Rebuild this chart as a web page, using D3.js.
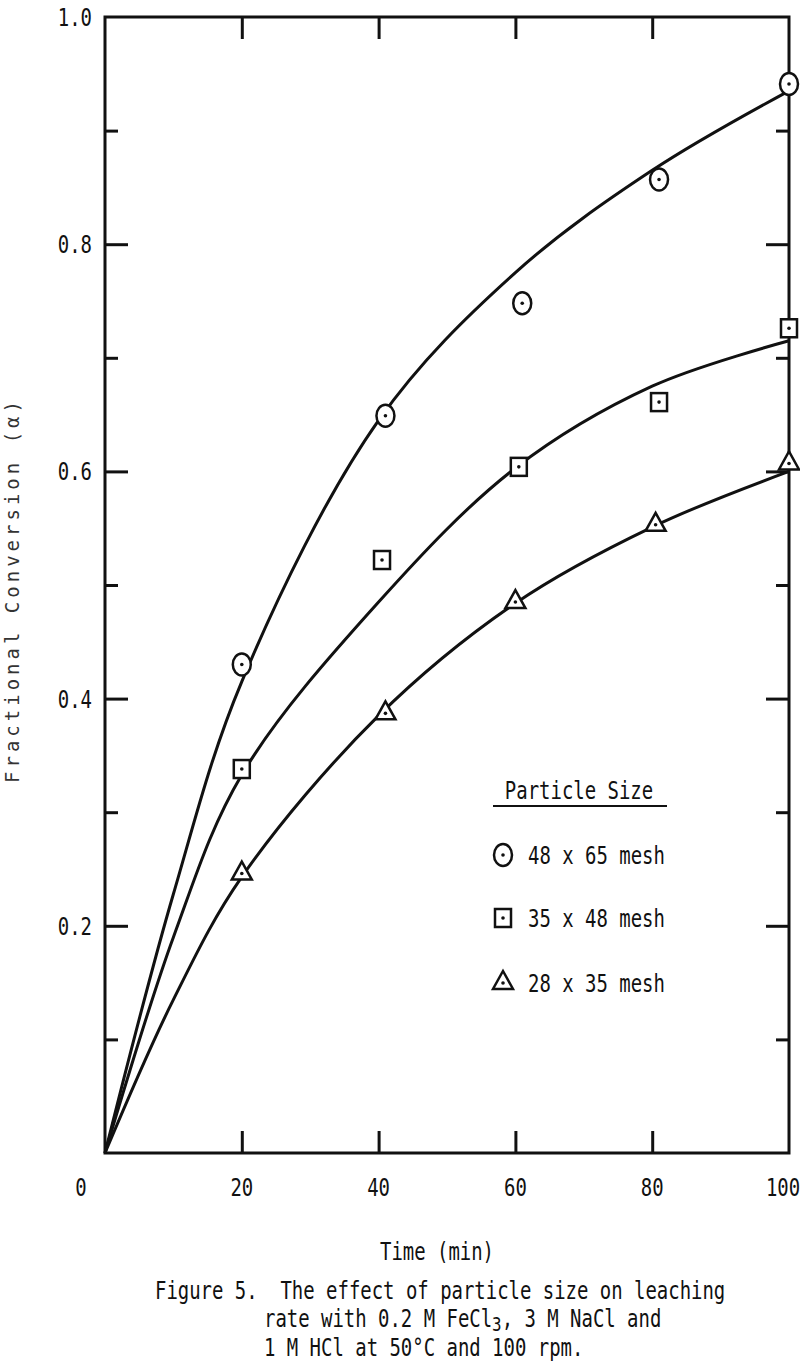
<!DOCTYPE html>
<html>
<head>
<meta charset="utf-8">
<script src="https://cdn.jsdelivr.net/npm/d3@7"></script>
<style>
body { margin: 0; background: #fff; }
</style>
</head>
<body>
<div id="chart"></div>
<script>
// data
const seriesNames = ["48 x 65 mesh", "35 x 48 mesh", "28 x 35 mesh"];
const markerKinds = ["circle", "square", "triangle"];
const pointTimes = [
    [20, 41, 61, 81, 100],
    [20, 40.5, 60.5, 81, 100],
    [20, 41, 60, 80.5, 100]
];
const pointValues = [
    [0.430, 0.649, 0.748, 0.857, 0.941],
    [0.338, 0.522, 0.604, 0.661, 0.726],
    [0.246, 0.387, 0.485, 0.553, 0.607]
];
// smooth fitted curves drawn by hand in the original
const fitTimes = [0, 10, 20, 40, 60, 80, 100];
const fitValues = [
    [0, 0.228, 0.415, 0.645, 0.775, 0.865, 0.935],
    [0, 0.190, 0.333, 0.485, 0.603, 0.675, 0.715],
    [0, 0.135, 0.243, 0.385, 0.484, 0.551, 0.600]
];
const xTicks = [0, 20, 40, 60, 80, 100];
const yTicks = [0.2, 0.4, 0.6, 0.8, 1.0];
const yMinorTicks = [0.1, 0.3, 0.5, 0.7, 0.9];
const captionLines = [
    "Figure 5.  The effect of particle size on leaching",
    "rate with 0.2 M FeCl",
    "1 M HCl at 50\u00B0C and 100 rpm."
];

const W = 800, H = 1371;
const box = { left: 105, right: 789, top: 17, bottom: 1153 };
const ink = "#111";

const svg = d3.select("#chart").append("svg")
    .attr("width", W)
    .attr("height", H);

const x = d3.scaleLinear().domain([0, 100]).range([box.left, box.right]);
const y = d3.scaleLinear().domain([0, 1]).range([box.bottom, box.top]);

// condensed typewriter-like text
function condText(g, tx, ty, str, size, anchor) {
    return g.append("text")
        .attr("transform", `translate(${tx},${ty}) scale(0.79,1)`)
        .attr("text-anchor", anchor || "start")
        .style("font-family", "'DejaVu Sans Mono', monospace")
        .style("font-size", size + "px")
        .style("fill", ink)
        .style("white-space", "pre")
        .text(str);
}

// frame + inward ticks
const axes = svg.append("g").attr("class", "ejes");

axes.append("g")
    .attr("transform", `translate(0,${box.bottom})`)
    .call(d3.axisTop(x).tickValues([20, 40, 60, 80]).tickSize(22).tickSizeOuter(0).tickFormat(""));
axes.append("g")
    .attr("transform", `translate(0,${box.top})`)
    .call(d3.axisBottom(x).tickValues([20, 40, 60, 80]).tickSize(22).tickSizeOuter(0).tickFormat(""));
axes.append("g")
    .attr("transform", `translate(${box.left},0)`)
    .call(d3.axisRight(y).tickValues(yTicks.slice(0, 4)).tickSize(23).tickSizeOuter(0).tickFormat(""));
axes.append("g")
    .attr("transform", `translate(${box.left},0)`)
    .call(d3.axisRight(y).tickValues(yMinorTicks).tickSize(13).tickSizeOuter(0).tickFormat(""));
axes.append("g")
    .attr("transform", `translate(${box.right},0)`)
    .call(d3.axisLeft(y).tickValues(yTicks.slice(0, 4)).tickSize(23).tickSizeOuter(0).tickFormat(""));
axes.append("g")
    .attr("transform", `translate(${box.right},0)`)
    .call(d3.axisLeft(y).tickValues(yMinorTicks).tickSize(13).tickSizeOuter(0).tickFormat(""));

axes.selectAll("path.domain").remove();
axes.selectAll("line").attr("stroke", ink).attr("stroke-width", 3);

axes.append("rect")
    .attr("x", box.left).attr("y", box.top)
    .attr("width", box.right - box.left).attr("height", box.bottom - box.top)
    .attr("fill", "none")
    .attr("stroke", ink)
    .attr("stroke-width", 3);

// tick labels
const labels = svg.append("g");
yTicks.forEach(v => condText(labels, 92, y(v) + 9, v.toFixed(1), 24, "end"));
xTicks.forEach(v => {
    let px = x(v);
    if (v === 0) px = x(0) - 24;
    if (v === 100) px = x(100) - 6;
    condText(labels, px, 1196, String(v), 24, "middle");
});

// axis titles
condText(labels, 437, 1260, "Time (min)", 24, "middle");
svg.append("text")
    .attr("transform", "translate(19,590) rotate(-90)")
    .attr("text-anchor", "middle")
    .style("font-family", "'DejaVu Sans Mono', monospace")
    .style("font-size", "19px")
    .style("letter-spacing", "4px")
    .style("fill", "#333")
    .text("Fractional Conversion (\u03B1)");

// curves
const line = d3.line()
    .x(d => x(d[0]))
    .y(d => y(d[1]))
    .curve(d3.curveCatmullRom.alpha(0.5));

fitValues.forEach(vals => {
    svg.append("path")
        .datum(fitTimes.map((t, i) => [t, vals[i]]))
        .attr("d", line)
        .attr("fill", "none")
        .attr("stroke", ink)
        .attr("stroke-width", 3);
});

// markers
function marker(g, kind, cx, cy) {
    const m = g.append("g").attr("transform", `translate(${cx},${cy})`);
    if (kind === "circle") {
        m.append("ellipse").attr("rx", 9).attr("ry", 11);
    } else if (kind === "square") {
        m.append("rect").attr("x", -8).attr("y", -9).attr("width", 16).attr("height", 18);
    } else {
        m.append("path").attr("d", "M0,-12 L10,6 L-10,6 Z");
    }
    m.selectAll("ellipse,rect,path")
        .attr("fill", "#fff")
        .attr("stroke", ink)
        .attr("stroke-width", 2.5);
    m.append("circle").attr("r", 1.8).attr("fill", ink);
}

const puntos = svg.append("g");
pointValues.forEach((vals, s) => {
    vals.forEach((v, i) => marker(puntos, markerKinds[s], x(pointTimes[s][i]), y(v)));
});

// legend
const leyenda = svg.append("g");
condText(leyenda, 579, 799, "Particle Size", 24, "middle");
leyenda.append("line")
    .attr("x1", 493).attr("x2", 667)
    .attr("y1", 806).attr("y2", 806)
    .attr("stroke", ink).attr("stroke-width", 2);
const legendRows = [855, 918, 983];
seriesNames.forEach((name, i) => {
    marker(leyenda, markerKinds[i], 503, legendRows[i]);
    condText(leyenda, 528, legendRows[i] + 9, name, 24, "start");
});

// caption
const cap = svg.append("g");
condText(cap, 155, 1299, captionLines[0], 24, "start");
const l2 = condText(cap, 264, 1327, captionLines[1], 24, "start");
l2.append("tspan").attr("dy", 4).style("font-size", "20px").text("3");
l2.append("tspan").attr("dy", -4).text(", 3 M NaCl and");
condText(cap, 264, 1356, captionLines[2], 24, "start");
</script>
</body>
</html>
